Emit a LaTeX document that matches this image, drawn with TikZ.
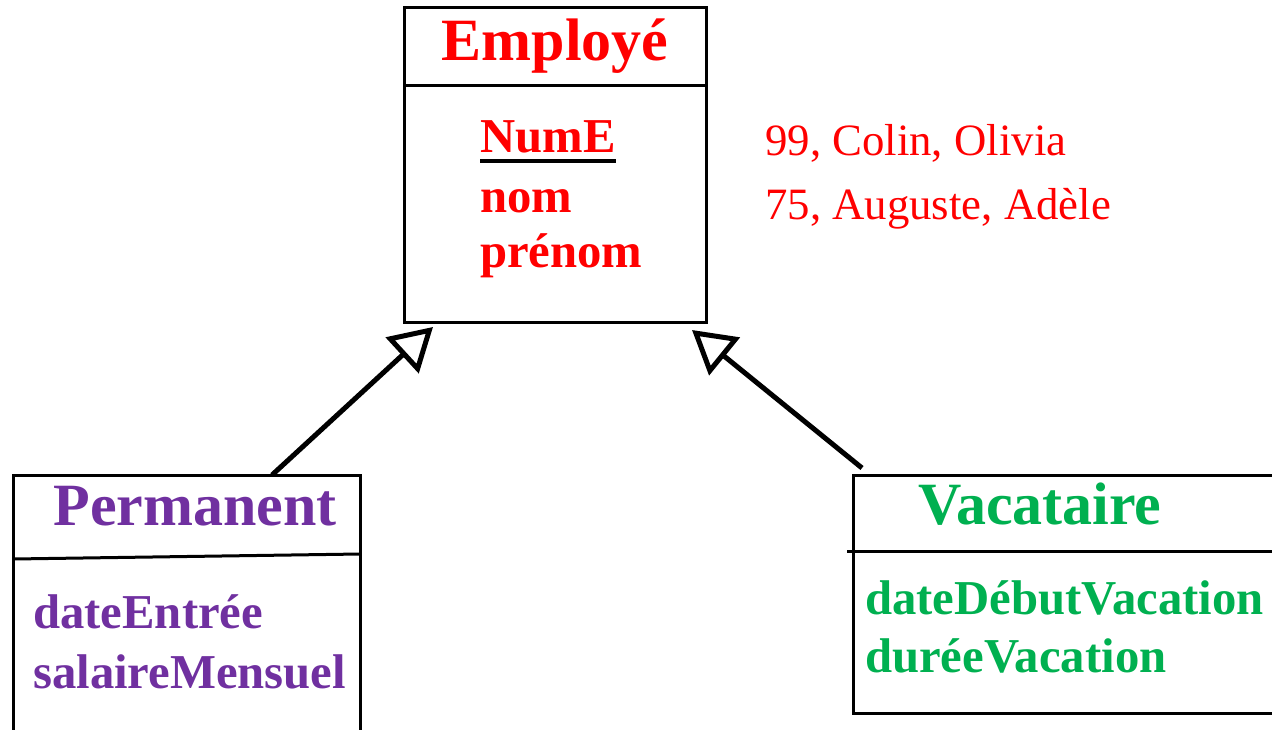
\documentclass[tikz,border=0pt]{standalone}
\usepackage{fontspec}
\setmainfont{Liberation Serif}
\usetikzlibrary{arrows.meta,calc}
\definecolor{cred}{RGB}{255,0,0}
\definecolor{cpurple}{RGB}{112,48,160}
\definecolor{cgreen}{RGB}{0,176,80}
\tikzset{
  box/.style={draw=black, line width=3pt, rectangle, inner sep=0pt, outer sep=0pt, anchor=north west},
  divline/.style={draw=black, line width=3pt},
  title/.style={font=\fontsize{60}{72}\selectfont\bfseries, inner sep=0pt, anchor=base},
  attr/.style={font=\fontsize{48.7}{56}\selectfont\bfseries, inner sep=0pt, anchor=base west},
  inst/.style={font=\fontsize{44.8}{52}\selectfont, inner sep=0pt, anchor=base west, text=cred},
  inh/.style={line width=5pt, -{Triangle[open, length=42pt, width=48pt, line width=5pt]}}
}
\begin{document}
\begin{tikzpicture}[x=1pt,y=-1pt]
\useasboundingbox (0,0) rectangle (1272,729);
\clip (0,0) rectangle (1272,729);
% boxes
\node[box, minimum width=302pt, minimum height=315pt] (emp) at (404,7) {};
\node[box, minimum width=347pt, minimum height=300pt] (perm) at (13,475) {};
\node[box, minimum width=460pt, minimum height=238pt] (vac) at (853,475) {};
% dividers
\draw[divline] (404,85) -- (706,85);
\draw[divline] (13,559) -- (360,554);
\draw[divline] (847,551) -- (1290,551);
% titles
\node[title, text=cred] (empT) at (555,60) {Employé};
\node[title, text=cpurple] (permT) at (195,525) {Permanent};
\node[title, text=cgreen, anchor=base west] (vacT) at (918,524) {Vacataire};
% Employé attributes
\node[attr, text=cred] (numE) at (480,152) {NumE};
\draw[black, line width=4pt] (numE.base west) ++(0,8.5) -- ($(numE.base east)+(0,8.5)$);
\node[attr, text=cred] (nom) at (480,212) {nom};
\node[attr, text=cred] (prenom) at (480,267) {prénom};
% instances
\node[inst] (i1) at (765,155) {99, Colin, Olivia};
\node[inst] (i2) at (765,219) {75, Auguste, Adèle};
% Permanent attributes
\node[attr, text=cpurple] (p1) at (33,628) {dateEntrée};
\node[attr, text=cpurple] (p2) at (33,688) {salaireMensuel};
% Vacataire attributes
\node[attr, text=cgreen] (v1) at (865,614) {dateDébutVacation};
\node[attr, text=cgreen] (v2) at (865,672) {duréeVacation};
% inheritance arrows
\draw[inh] ([xshift=259pt]perm.north west) -- ([xshift=29pt,yshift=-5pt]emp.south west);
\draw[inh] ([xshift=9pt,yshift=7pt]vac.north west) -- ([xshift=-14pt,yshift=-8pt]emp.south east);
\end{tikzpicture}
\end{document}
